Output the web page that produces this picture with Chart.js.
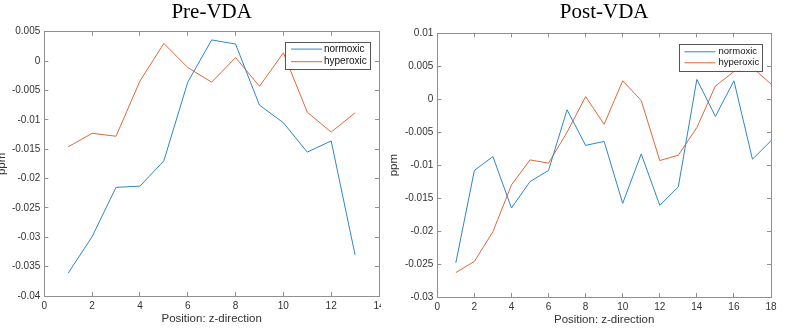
<!DOCTYPE html>
<html>
<head>
<meta charset="utf-8">
<script src="https://cdn.jsdelivr.net/npm/chart.js@4"></script>
<style>
  html, body { margin: 0; padding: 0; background: #ffffff; width: 797px; height: 333px; overflow: hidden; }
  .wrap { position: absolute; top: 0; overflow: hidden; }
  canvas { display: block; }
</style>
</head>
<body>
<div class="wrap" style="left:0px;width:381px;height:333px;"><canvas id="pre" width="399" height="333"></canvas></div>
<div class="wrap" style="left:388px;width:409px;height:333px;"><canvas id="post" width="409" height="333"></canvas></div>
<script>
// ---------- data ----------
const preTitle = 'Pre-VDA';
const postTitle = 'Post-VDA';
const seriesNames = ['normoxic', 'hyperoxic'];
const xAxisLabel = 'Position: z-direction';
const yAxisLabel = 'ppm';

const preX = [1, 2, 3, 4, 5, 6, 7, 8, 9, 10, 11, 12, 13];
const preNormoxic = [-0.0361, -0.0299, -0.0215, -0.0213, -0.0170, -0.0036, 0.0036, 0.0029, -0.0075, -0.0105, -0.0155, -0.0136, -0.0330];
const preHyperoxic = [-0.0146, -0.0123, -0.0128, -0.0034, 0.0030, -0.0011, -0.0036, 0.0006, -0.0043, 0.0014, -0.0087, -0.0121, -0.0088];

const postX = [1, 2, 3, 4, 5, 6, 7, 8, 9, 10, 11, 12, 13, 14, 15, 16, 17, 18];
const postNormoxic = [-0.0248, -0.0108, -0.0087, -0.0165, -0.0125, -0.0108, -0.0016, -0.0070, -0.0064, -0.0158, -0.0083, -0.0161, -0.0133, 0.0030, -0.0026, 0.0028, -0.0091, -0.0063];
const postHyperoxic = [-0.0263, -0.0246, -0.0201, -0.0130, -0.0092, -0.0097, -0.0050, 0.0004, -0.0038, 0.0028, -0.0002, -0.0093, -0.0085, -0.0043, 0.0020, 0.0042, 0.0048, 0.0023];

const preXTicks = [0, 2, 4, 6, 8, 10, 12, 14];
const preYTicks = [-0.04, -0.035, -0.03, -0.025, -0.02, -0.015, -0.01, -0.005, 0, 0.005];
const postXTicks = [0, 2, 4, 6, 8, 10, 12, 14, 16, 18];
const postYTicks = [-0.03, -0.025, -0.02, -0.015, -0.01, -0.005, 0, 0.005, 0.01];

// ---------- style ----------
const BLUE = '#2f86c6';
const ORANGE = '#e0683a';
const TEXT = '#333333';
const AXIS = '#8f8f8f';
const SANS = '"Liberation Sans", Arial, sans-serif';
const SERIF = '"Liberation Serif", "Times New Roman", serif';

function fmt(v) {
  const n = Number(Number(v).toFixed(4));
  return (Object.is(n, -0) ? 0 : n).toString();
}

const boxLegend = {
  id: 'boxLegend',
  afterDatasetsDraw(chart, args, opts) {
    const ctx = chart.ctx;
    const area = chart.chartArea;
    const w = opts.width, h = opts.height;
    const x0 = area.right - opts.right - w;
    const y0 = area.top + opts.top;
    ctx.save();
    ctx.fillStyle = '#ffffff';
    ctx.fillRect(x0, y0, w, h);
    ctx.strokeStyle = '#555555';
    ctx.lineWidth = 1;
    ctx.strokeRect(Math.round(x0) + 0.5, Math.round(y0) + 0.5, Math.round(w), Math.round(h));
    ctx.font = opts.fontSize + 'px ' + SANS;
    ctx.textBaseline = 'middle';
    ctx.textAlign = 'left';
    chart.data.datasets.forEach((ds, i) => {
      const cy = y0 + opts.firstRow + i * opts.rowGap;
      ctx.strokeStyle = ds.borderColor;
      ctx.lineWidth = 1;
      ctx.beginPath();
      ctx.moveTo(x0 + opts.lineStart, cy);
      ctx.lineTo(x0 + opts.lineEnd, cy);
      ctx.stroke();
      ctx.fillStyle = '#111111';
      ctx.fillText(ds.label, x0 + opts.textX, cy);
    });
    ctx.restore();
  }
};

function makeChart(id, cfg) {
  const setTicks = (arr) => (scale) => { scale.ticks = arr.map(v => ({ value: v })); };
  const gridOpts = { drawOnChartArea: false, drawTicks: true, tickLength: -4, color: AXIS, lineWidth: 1 };
  const borderOpts = { display: true, color: AXIS, width: 1 };
  return new Chart(document.getElementById(id), {
    type: 'line',
    data: {
      datasets: [
        { label: seriesNames[0], data: cfg.x.map((x, i) => ({ x: x, y: cfg.normoxic[i] })), borderColor: BLUE, backgroundColor: BLUE, borderWidth: 1, pointRadius: 0, tension: 0, fill: false },
        { label: seriesNames[1], data: cfg.x.map((x, i) => ({ x: x, y: cfg.hyperoxic[i] })), borderColor: ORANGE, backgroundColor: ORANGE, borderWidth: 1, pointRadius: 0, tension: 0, fill: false }
      ]
    },
    options: {
      responsive: false,
      animation: false,
      events: [],
      layout: { autoPadding: false, padding: { left: 0, right: 0, top: 0, bottom: cfg.padBottom } },
      plugins: {
        legend: { display: false },
        tooltip: { enabled: false },
        title: { display: true, text: cfg.title, fullSize: false, color: '#000000', font: { family: SERIF, size: 21, weight: 'normal', lineHeight: 1.2 }, padding: { top: cfg.titleTop, bottom: 0 } },
        boxLegend: cfg.legend
      },
      scales: {
        x: {
          type: 'linear', position: 'bottom', min: cfg.xTicks[0], max: cfg.xTicks[cfg.xTicks.length - 1],
          afterBuildTicks: setTicks(cfg.xTicks),
          afterFit: (s) => { s.height = 30; },
          grid: gridOpts, border: borderOpts,
          ticks: { color: TEXT, font: { family: SANS, size: 10 }, padding: 8, maxRotation: 0, autoSkip: false, callback: (v) => fmt(v) },
          title: { display: true, text: xAxisLabel, color: TEXT, font: { family: SANS, size: 11.5 }, padding: { top: 0, bottom: 0 } }
        },
        x2: {
          type: 'linear', position: 'top', min: cfg.xTicks[0], max: cfg.xTicks[cfg.xTicks.length - 1],
          afterBuildTicks: setTicks(cfg.xTicks),
          afterFit: (s) => { s.height = cfg.topAxis; },
          grid: gridOpts, border: borderOpts,
          ticks: { display: false }
        },
        y: {
          type: 'linear', position: 'left', min: cfg.yTicks[0], max: cfg.yTicks[cfg.yTicks.length - 1],
          afterBuildTicks: setTicks(cfg.yTicks),
          afterFit: (s) => { s.width = cfg.leftAxis; },
          grid: gridOpts, border: borderOpts,
          ticks: { color: TEXT, font: { family: SANS, size: 10 }, padding: 8, autoSkip: false, callback: (v) => fmt(v) },
          title: { display: true, text: yAxisLabel, color: TEXT, font: { family: SANS, size: 11.5, lineHeight: cfg.ppmLH }, padding: 0 }
        },
        y2: {
          type: 'linear', position: 'right', min: cfg.yTicks[0], max: cfg.yTicks[cfg.yTicks.length - 1],
          afterBuildTicks: setTicks(cfg.yTicks),
          afterFit: (s) => { s.width = cfg.rightAxis; },
          grid: gridOpts, border: borderOpts,
          ticks: { display: false }
        }
      }
    },
    plugins: [boxLegend]
  });
}

makeChart('pre', {
  title: preTitle, x: preX, normoxic: preNormoxic, hyperoxic: preHyperoxic,
  xTicks: preXTicks, yTicks: preYTicks,
  padBottom: 7, titleTop: 0, topAxis: 6.5, leftAxis: 44.3, rightAxis: 20, ppmLH: '4px',
  legend: { width: 85, height: 27, right: 9, top: 10.6, firstRow: 6.8, rowGap: 12.6, lineStart: 6, lineEnd: 37, textX: 39, fontSize: 10 }
});

makeChart('post', {
  title: postTitle, x: postX, normoxic: postNormoxic, hyperoxic: postHyperoxic,
  xTicks: postXTicks, yTicks: postYTicks,
  padBottom: 6, titleTop: 0, topAxis: 8.1, leftAxis: 49.3, rightAxis: 26, ppmLH: '11px',
  legend: { width: 83, height: 26.5, right: 9.5, top: 11, firstRow: 7.5, rowGap: 11, lineStart: 6, lineEnd: 37, textX: 40, fontSize: 9.5 }
});
</script>
</body>
</html>
